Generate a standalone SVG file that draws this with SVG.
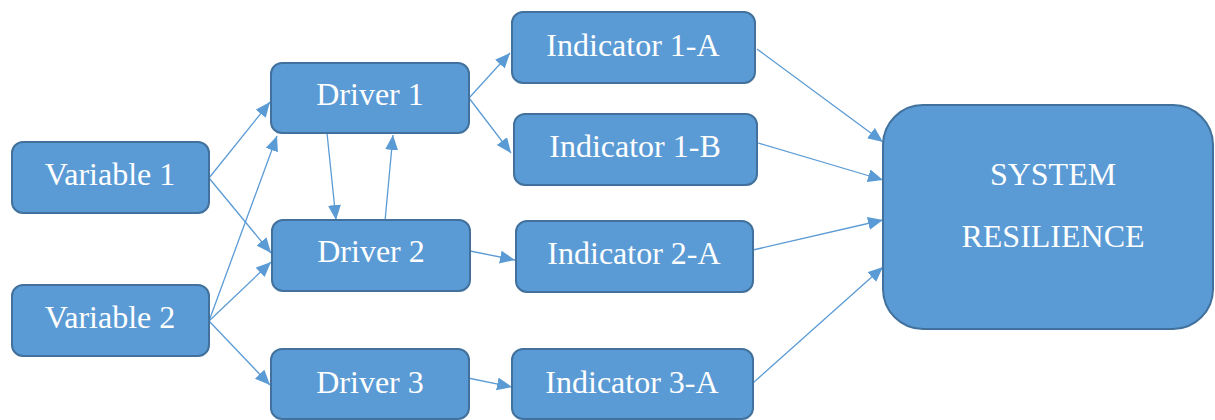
<svg xmlns="http://www.w3.org/2000/svg" width="1215" height="420" viewBox="0 0 1215 420">
  <style>
    .box { fill: #5B9BD5; stroke: #41719C; stroke-width: 2; }
    .lbl { font-family: 'Liberation Serif', Tinos, 'DejaVu Serif', serif; font-size: 32px; fill: #FFFFFF; text-anchor: middle; }
    .edge { stroke: #5B9BD5; stroke-width: 1.3; fill: none; marker-end: url(#arrow); }
  </style>
  <defs>
    <marker id="arrow" markerUnits="userSpaceOnUse" markerWidth="16" markerHeight="14" refX="15" refY="6.5" orient="auto">
      <path d="M0,0 L15,6.5 L0,13 Z" fill="#5B9BD5"/>
    </marker>
  </defs>
  <rect width="1215" height="420" fill="#FFFFFF"/>

  <!-- connectors -->
  <g id="connectors">
    <line class="edge" x1="209" y1="178" x2="270" y2="102"/>
    <line class="edge" x1="209" y1="178" x2="271" y2="253"/>
    <line class="edge" x1="209" y1="321" x2="277" y2="136"/>
    <line class="edge" x1="209" y1="321" x2="271" y2="262"/>
    <line class="edge" x1="209" y1="321" x2="270" y2="385"/>
    <line class="edge" x1="327" y1="133" x2="336" y2="220"/>
    <line class="edge" x1="385" y1="221" x2="393" y2="135"/>
    <line class="edge" x1="469" y1="98" x2="510" y2="53"/>
    <line class="edge" x1="469" y1="98" x2="511" y2="153"/>
    <line class="edge" x1="470" y1="251" x2="515" y2="260"/>
    <line class="edge" x1="468" y1="378" x2="512" y2="387"/>
    <line class="edge" x1="757" y1="49" x2="883" y2="142"/>
    <line class="edge" x1="758" y1="143" x2="883" y2="180"/>
    <line class="edge" x1="753" y1="250" x2="883" y2="220"/>
    <line class="edge" x1="753" y1="383" x2="883" y2="267"/>
  </g>

  <g id="variable-1">
    <rect class="box" x="12" y="142" width="197" height="71" rx="11"/>
    <text class="lbl" x="110" y="185">Variable 1</text>
  </g>
  <g id="variable-2">
    <rect class="box" x="12" y="285" width="197" height="71" rx="11"/>
    <text class="lbl" x="110" y="328">Variable 2</text>
  </g>
  <g id="driver-1">
    <rect class="box" x="271" y="63" width="198" height="70" rx="11"/>
    <text class="lbl" x="370" y="105">Driver 1</text>
  </g>
  <g id="driver-2">
    <rect class="box" x="272" y="220" width="198" height="71" rx="11"/>
    <text class="lbl" x="371" y="262">Driver 2</text>
  </g>
  <g id="driver-3">
    <rect class="box" x="271" y="349" width="198" height="70" rx="11"/>
    <text class="lbl" x="370" y="393">Driver 3</text>
  </g>
  <g id="indicator-1a">
    <rect class="box" x="512" y="12" width="243" height="71" rx="11"/>
    <text class="lbl" x="633" y="56">Indicator 1-A</text>
  </g>
  <g id="indicator-1b">
    <rect class="box" x="514" y="114" width="243" height="71" rx="11"/>
    <text class="lbl" x="635" y="157">Indicator 1-B</text>
  </g>
  <g id="indicator-2a">
    <rect class="box" x="516" y="221" width="237" height="71" rx="11"/>
    <text class="lbl" x="634" y="264">Indicator 2-A</text>
  </g>
  <g id="indicator-3a">
    <rect class="box" x="512" y="349" width="241" height="70" rx="11"/>
    <text class="lbl" x="632" y="393">Indicator 3-A</text>
  </g>
  <g id="system-resilience">
    <rect class="box" x="883" y="105" width="330" height="224" rx="40"/>
    <text class="lbl" x="1053" y="185">SYSTEM</text>
    <text class="lbl" x="1053" y="247">RESILIENCE</text>
  </g>
</svg>
